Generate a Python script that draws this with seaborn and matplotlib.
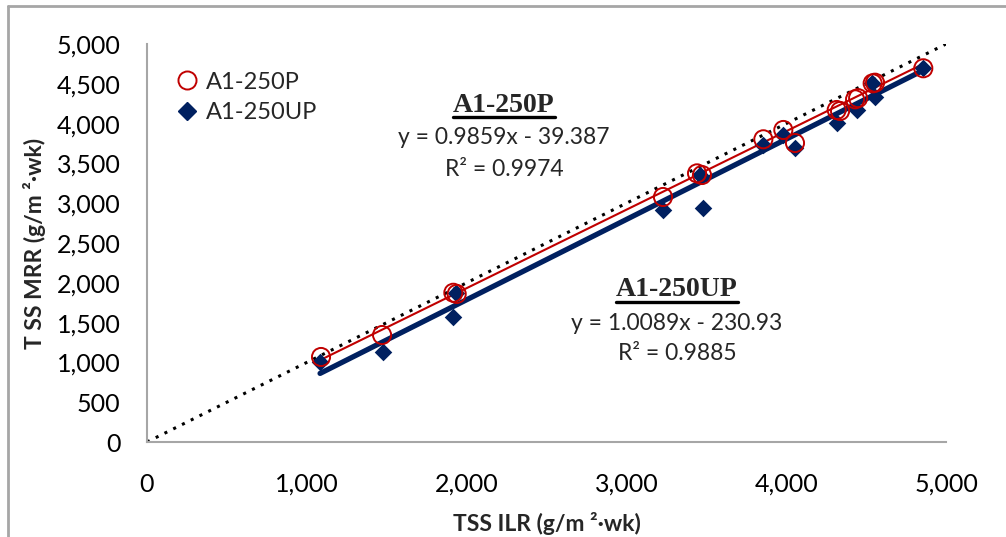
import numpy as np
import pandas as pd
import matplotlib
matplotlib.use("Agg")
import matplotlib.pyplot as plt
from matplotlib.lines import Line2D
import seaborn as sns

# ---- data ----
p_x = [1089, 1471, 1917, 1938, 3229, 3442, 3473, 3857, 3982, 4055, 4316, 4337, 4431, 4450, 4541, 4556, 4858]
p_y = [1068, 1344, 1875, 1860, 3078, 3375, 3354, 3803, 3920, 3756, 4171, 4158, 4305, 4320, 4506, 4514, 4695]
up_x = [1083, 1475, 1917, 1932, 3229, 3461, 3481, 3857, 3982, 4055, 4316, 4441, 4535, 4556, 4858]
up_y = [1009, 1134, 1574, 1868, 2915, 3354, 2936, 3731, 3857, 3690, 4004, 4171, 4506, 4338, 4695]

fit_p = (0.9859, -39.387)
fit_up = (1.0089, -230.93)
eq_p = ["A1-250P", "y = 0.9859x - 39.387", "R² = 0.9974"]
eq_up = ["A1-250UP", "y = 1.0089x - 230.93", "R² = 0.9885"]
series_names = ["A1-250P", "A1-250UP"]
ticks = [0, 1000, 2000, 3000, 4000, 5000]
yticks = [0, 500, 1000, 1500, 2000, 2500, 3000, 3500, 4000, 4500, 5000]
xlabel = "TSS ILR (g/m ²·wk)"
ylabel = "T SS MRR (g/m ²·wk)"

sns.set_style("white")
plt.rcParams['font.family'] = ['Lato', 'DejaVu Sans']

RED = "#C00000"
NAVY = "#002060"
GRAY = "#A6A6A6"

fig = plt.figure(figsize=(10.06, 5.37), dpi=100)
ax = fig.add_axes([147/1006, 1 - 442/537, (946-147)/1006, (442-44)/537])

# 1:1 line
ax.plot([0, 5000], [0, 5000], color="black", linestyle=(0, (1, 2.2)), linewidth=2.2, zorder=1)

# trend lines
xs_p = np.array([min(p_x), max(p_x)])
ax.plot(xs_p, fit_p[0]*xs_p + fit_p[1], color=RED, linewidth=1.5, zorder=3)
xs_up = np.array([min(up_x), max(up_x)])
ax.plot(xs_up, fit_up[0]*xs_up + fit_up[1], color=NAVY, linewidth=3.8, zorder=2,
        solid_capstyle="round")

df_up = pd.DataFrame({"x": up_x, "y": up_y})
df_p = pd.DataFrame({"x": p_x, "y": p_y})
sns.scatterplot(data=df_up, x="x", y="y", ax=ax, marker="D", s=80, color=NAVY,
                edgecolor=NAVY, linewidth=0, zorder=4)
sns.scatterplot(data=df_p, x="x", y="y", ax=ax, marker="o", s=170, facecolor="none",
                edgecolor=RED, linewidth=1.4, zorder=5)

ax.set_xlim(0, 5000)
ax.set_ylim(0, 5000)
ax.set_xticks(ticks)
ax.set_yticks(yticks)
ax.set_xticklabels([f"{t:,}" for t in ticks])
ax.set_yticklabels([f"{t:,}" for t in yticks])
ax.tick_params(axis="both", length=0, labelsize=18, colors="black")
ax.tick_params(axis="x", pad=22)
ax.tick_params(axis="y", pad=19)
for s in ["top", "right"]:
    ax.spines[s].set_visible(False)
for s in ["left", "bottom"]:
    ax.spines[s].set_color(GRAY)
    ax.spines[s].set_linewidth(1.5)

ax.set_xlabel(xlabel, fontsize=16.5, fontweight="bold", labelpad=12)
ax.set_ylabel(ylabel, fontsize=16.5, fontweight="bold", labelpad=8)

handles = [Line2D([], [], marker="o", linestyle="none", markersize=13, markerfacecolor="none",
                  markeredgecolor=RED, markeredgewidth=1.4),
           Line2D([], [], marker="D", linestyle="none", markersize=9, color=NAVY)]
ax.legend(handles, series_names, loc="upper left", bbox_to_anchor=(0.0, 0.99),
          frameon=False, fontsize=17, handletextpad=0.1, handlelength=1.4,
          labelspacing=0.4, borderaxespad=0.6)

def block(lines, cx, ys):
    t = fig.text(cx/1006, 1 - ys[0]/537, lines[0], ha="center", va="center",
                 fontsize=20, fontweight="bold", family="Liberation Serif")
    fig.text(cx/1006, 1 - ys[1]/537, lines[1], ha="center", va="center", fontsize=16.5)
    fig.text(cx/1006, 1 - ys[2]/537, lines[2], ha="center", va="center", fontsize=16.5)
    return t

t1 = block(eq_p, 504, [105, 137, 169])
t2 = block(eq_up, 677, [290, 323, 353])

fig.canvas.draw()
r = fig.canvas.get_renderer()
for t in (t1, t2):
    bb = t.get_window_extent(r)
    y = bb.y0 + 1
    fig.add_artist(Line2D([bb.x0/1006, bb.x1/1006], [y/537, y/537], color="black",
                          linewidth=2.4, transform=fig.transFigure))

# outer frame (top and left visible)
fig.add_artist(Line2D([8/1006, 1], [1 - 6/537, 1 - 6/537], color=GRAY, linewidth=2,
                      transform=fig.transFigure))
fig.add_artist(Line2D([8/1006, 8/1006], [0, 1 - 6/537], color=GRAY, linewidth=2,
                      transform=fig.transFigure))

fig.savefig("out.png", dpi=100)
